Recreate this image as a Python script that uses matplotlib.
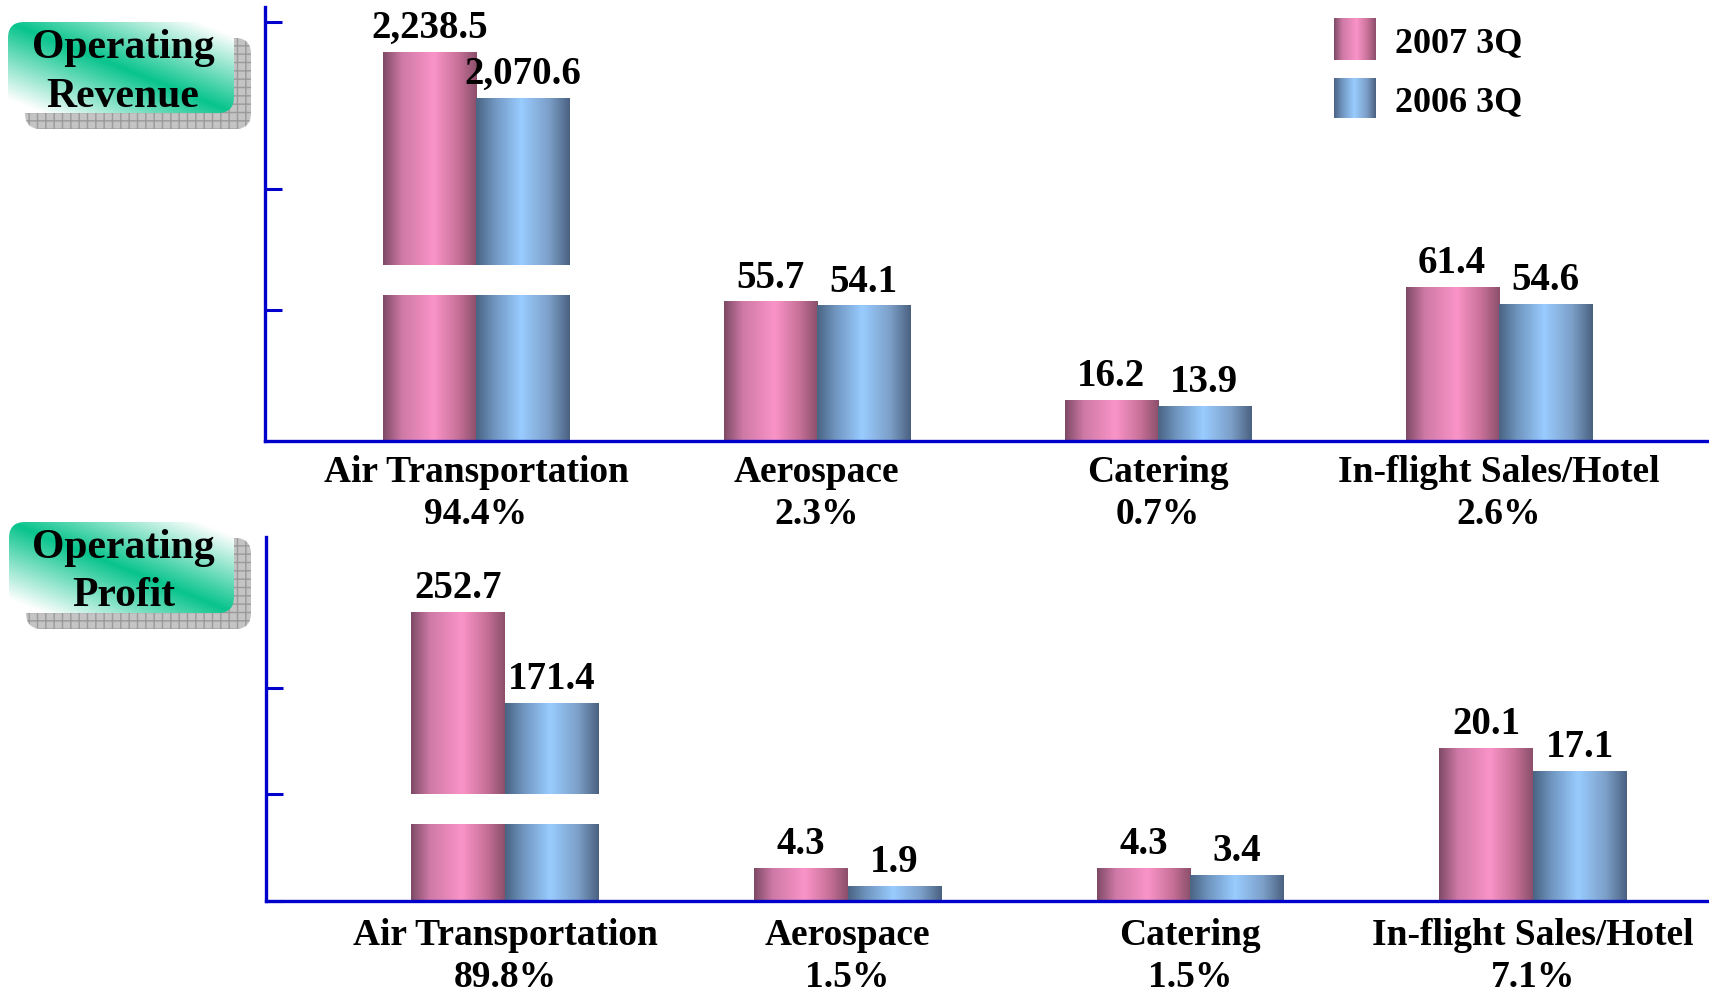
import numpy as np
import matplotlib
matplotlib.use("Agg")
import matplotlib.pyplot as plt
from matplotlib.colors import LinearSegmentedColormap, to_rgb
from matplotlib.patches import FancyBboxPatch

# ---------------- data ----------------
categories = ["Air Transportation", "Aerospace", "Catering", "In-flight Sales/Hotel"]
series_names = ["2007 3Q", "2006 3Q"]
revenue_2007 = [2238.5, 55.7, 16.2, 61.4]
revenue_2006 = [2070.6, 54.1, 13.9, 54.6]
revenue_share = ["94.4%", "2.3%", "0.7%", "2.6%"]
profit_2007 = [252.7, 4.3, 4.3, 20.1]
profit_2006 = [171.4, 1.9, 3.4, 17.1]
profit_share = ["89.8%", "1.5%", "1.5%", "7.1%"]
panel_titles = ["Operating\nRevenue", "Operating\nProfit"]

# ---------------- style ----------------
W, H = 1709, 992
FONT = "Liberation Serif"
AXIS_BLUE = "#0000CC"
pink_cmap = LinearSegmentedColormap.from_list(
    "pink", [(0, "#7E4A65"), (0.2, "#CE79A6"), (0.54, "#FA94C8"), (0.8, "#C87199"), (1, "#8B4F6B")])
blue_cmap = LinearSegmentedColormap.from_list(
    "blue", [(0, "#4A6383"), (0.2, "#7096C0"), (0.48, "#99CCFF"), (0.78, "#7C9FC8"), (1, "#4A6180")])
grad = np.linspace(0, 1, 256)[None, :]

fig = plt.figure(figsize=(W / 100, H / 100), dpi=100)
fig.patch.set_facecolor("white")


def px_rect(x0, y_top, x1, y_bot):
    """figure-fraction rectangle from pixel coordinates (y from top)."""
    return [x0 / W, (H - y_bot) / H, (x1 - x0) / W, (y_bot - y_top) / H]


def draw_series(ax, xs, vals, width, cmap, brk, fontsize=28, label=True):
    lo, top_lim = ax.get_ylim()
    bars = ax.bar(xs, vals, width, facecolor="none", edgecolor="none", zorder=2)
    for b, v in zip(bars, vals):
        hi = brk if (brk is not None and v > top_lim) else top_lim
        y0 = max(0, lo)
        y1 = min(v, hi)
        if y1 <= y0:
            continue
        x0 = b.get_x()
        im = ax.imshow(grad, cmap=cmap, aspect="auto", interpolation="bilinear",
                       extent=(x0, x0 + b.get_width(), y0, y1), zorder=2)
        im.set_clip_path(b)
        if label and v <= top_lim:
            ax.annotate(f"{v:,.1f}", (x0 + b.get_width() / 2, v), xytext=(0, 10),
                        textcoords="offset points", ha="center", va="baseline",
                        fontsize=fontsize, fontweight="bold", family=FONT, zorder=5)


def panel(rect_main, rect_high, xlim, ylim_main, brk, ylim_high, v07, v06, shares, ticks, pad):
    xs = np.arange(len(categories))
    w = 0.273
    ax = fig.add_axes(rect_main)
    ax.set_xlim(*xlim)
    ax.set_ylim(*ylim_main)
    ax.patch.set_alpha(0)
    for s in ["top", "right"]:
        ax.spines[s].set_visible(False)
    for s in ["left", "bottom"]:
        ax.spines[s].set_color(AXIS_BLUE)
        ax.spines[s].set_linewidth(2.4)
    ax.set_yticks(ticks)
    ax.set_yticklabels([])
    ax.tick_params(axis="y", direction="in", length=12, width=2.2, color=AXIS_BLUE)
    ax.set_xticks(xs)
    ax.set_xticklabels([f"{c}\n{s}" for c, s in zip(categories, shares)],
                       fontsize=27, fontweight="bold", family=FONT, linespacing=1.27)
    ax.tick_params(axis="x", length=0, pad=pad)
    draw_series(ax, xs - w / 2, v07, w, pink_cmap, brk)
    draw_series(ax, xs + w / 2, v06, w, blue_cmap, brk)
    ax.set_xlim(*xlim)
    ax.set_ylim(*ylim_main)

    axh = fig.add_axes(rect_high)
    axh.set_xlim(*xlim)
    axh.set_ylim(*ylim_high)
    axh.axis("off")
    big = [i for i in range(len(categories)) if max(v07[i], v06[i]) > ylim_main[1]]
    draw_series(axh, xs[big] - w / 2, [v07[i] for i in big], w, pink_cmap, None)
    draw_series(axh, xs[big] + w / 2, [v06[i] for i in big], w, blue_cmap, None)
    axh.set_xlim(*xlim)
    axh.set_ylim(*ylim_high)
    return ax


# top panel: operating revenue
panel(px_rect(265, 7, W, 440.7), px_rect(265, 7, W, 265),
      (-0.619, 3.617), (0, 173.5), 58.3, (1461, 2403),
      revenue_2007, revenue_2006, revenue_share, [52.3, 100.7, 167.5], 10)

# bottom panel: operating profit
panel(px_rect(265.5, 537, W, 900.7), px_rect(265.5, 537, W, 794.5),
      (-0.699, 3.514), (0, 47.9), 10.1, (89.6, 319.7),
      profit_2007, profit_2006, profit_share, [0, 14.0, 28.0], 12.5)

# ---------------- decorations (badges + legend) ----------------
ov = fig.add_axes([0, 0, 1, 1], zorder=-1)
ov.set_xlim(0, W)
ov.set_ylim(H, 0)
ov.axis("off")

green = np.array(to_rgb("#08C48C"))
white = np.ones(3)


def badge(x0, y0, x1, y1, text, ty):
    sh = FancyBboxPatch((x0 + 17, y0 + 16), x1 - x0, y1 - y0,
                        boxstyle="round,pad=0,rounding_size=16",
                        facecolor="#C4C4C4", edgecolor="#9A9A9A", linewidth=0,
                        hatch="++", zorder=1)
    ov.add_patch(sh)
    box = FancyBboxPatch((x0, y0), x1 - x0, y1 - y0,
                         boxstyle="round,pad=0,rounding_size=16",
                         facecolor="none", edgecolor="none", zorder=2)
    ov.add_patch(box)
    u, v = np.meshgrid(np.linspace(0, 1, 200), np.linspace(0, 1, 100))
    t = np.clip(np.abs(u - v) / 0.85, 0, 1)[..., None]
    img = green * (1 - t) + white * t
    im = ov.imshow(img, extent=(x0, x1, y1, y0), aspect="auto", zorder=2,
                   interpolation="bilinear")
    im.set_clip_path(box)
    ov.text((x0 + x1) / 2 + 2, ty, text, ha="center", va="center", fontsize=30,
            fontweight="bold", family=FONT, linespacing=1.35, zorder=3)


badge(8, 22, 234, 113, panel_titles[0], 72.5)
badge(9, 522, 234, 613, panel_titles[1], 572)

for name, cmap, (y0, y1) in zip(series_names, [pink_cmap, blue_cmap], [(18, 60), (78, 118)]):
    ov.imshow(grad, cmap=cmap, extent=(1334, 1376, y1, y0), aspect="auto", zorder=2)
    ov.text(1395, (y0 + y1) / 2 + 4.5, name, ha="left", va="center", fontsize=26,
            fontweight="bold", family=FONT, zorder=3)

ov.set_xlim(0, W)
ov.set_ylim(H, 0)

fig.savefig("out.png", dpi=100, facecolor="white")
